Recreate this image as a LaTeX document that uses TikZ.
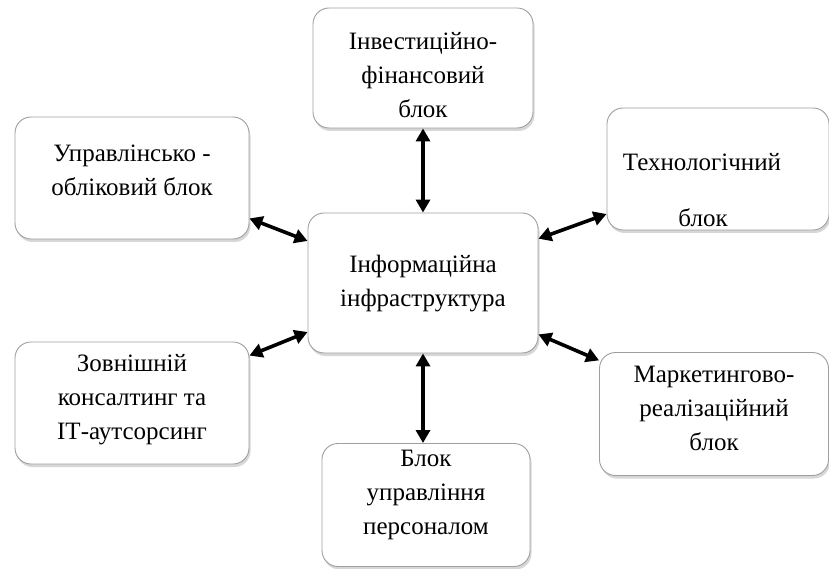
\documentclass[tikz,border=0pt]{standalone}
\usepackage{fontspec}
\setmainfont{Liberation Serif}
\usetikzlibrary{arrows.meta,shadows,calc}
\begin{document}
\begin{tikzpicture}[x=1pt,y=-1pt,
  blockbox/.style={draw=gray!75, line width=0.9pt, rounded corners=16pt, fill=white,
    drop shadow={shadow xshift=1.5pt, shadow yshift=-3pt, opacity=0.22, fill=black!70},
    inner sep=0pt},
  lbl/.style={align=center, inner sep=0pt, font=\fontsize{25}{34}\selectfont},
  link/.style={line width=3.6pt, {Triangle[length=13pt,width=14pt]}-{Triangle[length=13pt,width=14pt]}}
]
\useasboundingbox (0,0) rectangle (829,569);
\fill[white] (0,0) rectangle (829,569);
% boxes
\node[blockbox, minimum width=220pt, minimum height=120pt] (top) at (423,68) {};
\node[blockbox, minimum width=234pt, minimum height=122pt] (ul) at (132,178) {};
\node[blockbox, minimum width=222pt, minimum height=122pt] (ur) at (718,169) {};
\node[blockbox, minimum width=230pt, minimum height=140pt] (mid) at (423,283) {};
\node[blockbox, minimum width=234pt, minimum height=122pt] (ll) at (132,403) {};
\node[blockbox, minimum width=229pt, minimum height=123pt] (lr) at (714,414) {};
\node[blockbox, minimum width=208pt, minimum height=123pt] (bot) at (426,505) {};
% labels
\node[lbl] (ttop) at (423,75) {Інвестиційно-\\фінансовий\\блок};
\node[lbl] (tul) at (132,170) {Управлінсько -\\обліковий блок};
\node[lbl] (tur1) at (702,162) {Технологічний};
\node[lbl] (tur2) at (703,218) {блок};
\node[lbl] (tmid) at (423,284) {Інформаційна\\інфраструктура};
\node[lbl] (tll) at (132,400) {Зовнішній\\консалтинг та\\IТ-аутсорсинг};
\node[lbl] (tlr) at (714,408) {Маркетингово-\\реалізаційний\\блок};
\node[lbl] (tbot) at (426,495) {Блок\\управління\\персоналом};
% connectors
\draw[link] (top.south) -- (mid.north);
\draw[link] (mid.south) -- (mid.south |- bot.north);
\draw[link] (ul.-19.7) -- (mid.160.4);
\draw[link] (ur.-158.4) -- (mid.21.4);
\draw[link] (ll.22.3) -- (mid.-157.8);
\draw[link] (lr.155.5) -- (mid.-24.3);
\end{tikzpicture}
\end{document}
